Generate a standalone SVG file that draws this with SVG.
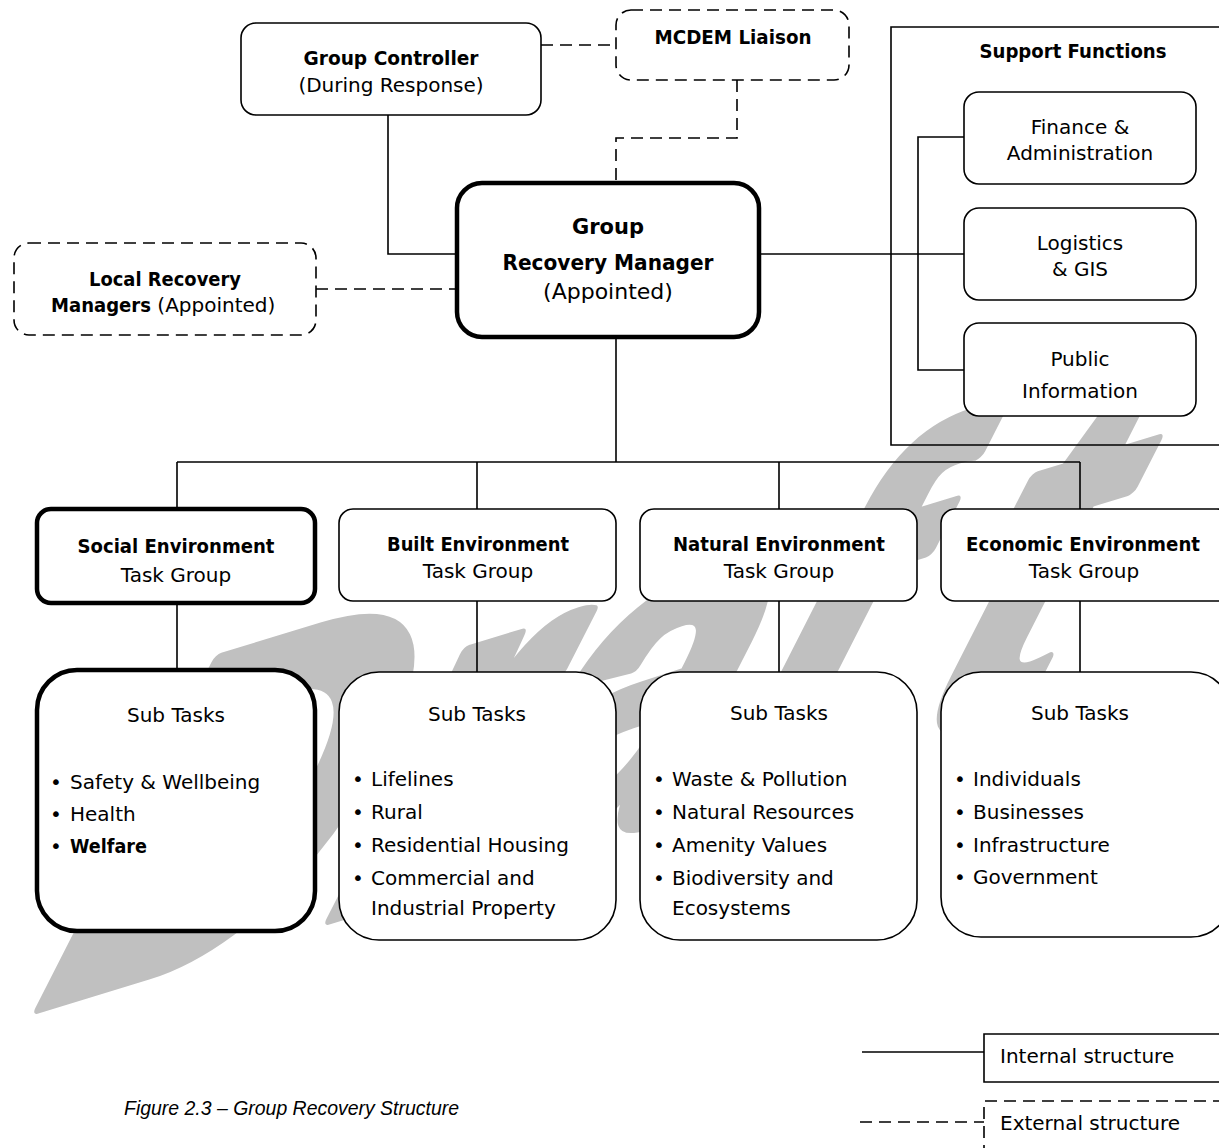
<svg xmlns="http://www.w3.org/2000/svg" width="1219" height="1148" viewBox="0 0 1219 1148">
<style>
.bg{fill:#ffffff}
text.wm{font-family:"Liberation Sans",Arial,sans-serif;font-weight:bold;fill:#c0c0c0;stroke:#c0c0c0;stroke-width:3;stroke-linejoin:round;font-size:100px}
.box{fill:#ffffff;stroke:#000;stroke-width:1.6}
.thick{fill:#ffffff;stroke:#000;stroke-width:4.5}
.dbox{fill:#ffffff;stroke:#000;stroke-width:1.6;stroke-dasharray:12 7}
.frame{fill:none;stroke:#000;stroke-width:1.6}
.ln{fill:none;stroke:#000;stroke-width:1.6}
.dl{fill:none;stroke:#000;stroke-width:1.6;stroke-dasharray:12 7}
text{font-family:"DejaVu Sans","Noto Sans",sans-serif;fill:#000;font-size:20px}
.c{text-anchor:middle}
.b{font-weight:bold}
.big{font-size:22px}
.cap{font-family:"Liberation Sans",Arial,sans-serif;font-style:italic;font-size:20px}
</style>
<rect class="bg" x="0" y="0" width="1219" height="1148"/>
<text class="wm" x="0 72.2 111.1 166.7 219" y="0" transform="matrix(4.015 -1.226 -2.56 5.025 14.5 1014.3)">Draft</text>

<g id="support-functions">
<path class="frame" d="M1225,27 H891 V445 H1225"/>
<text class="c b" x="1073" y="58" textLength="187" lengthAdjust="spacingAndGlyphs">Support Functions</text>
</g>

<g id="connectors">
<path class="ln" d="M388,115 V254 H457"/>
<path class="dl" d="M541,45 H616"/>
<path class="dl" d="M737,80 V138 H616 V183"/>
<path class="dl" d="M316,289 H457"/>
<path class="ln" d="M759,254 H964"/>
<path class="ln" d="M964,137 H918 V370 H964"/>
<path class="ln" d="M616,337 V462"/>
<path class="ln" d="M177,462 H1080"/>
<path class="ln" d="M177,462 V509 M477,462 V509 M779,462 V509 M1080,462 V509"/>
<path class="ln" d="M177,603 V670 M477,601 V672 M779,601 V672 M1080,601 V672"/>
</g>

<g id="group-controller">
<rect class="box" x="241" y="23" width="300" height="92" rx="15"/>
<text class="c b" x="391" y="65" textLength="175" lengthAdjust="spacingAndGlyphs">Group Controller</text>
<text class="c" x="391" y="92">(During Response)</text>
</g>

<g id="mcdem-liaison">
<rect class="dbox" x="616" y="10" width="233" height="70" rx="15"/>
<text class="c b" x="733" y="44" textLength="157" lengthAdjust="spacingAndGlyphs">MCDEM Liaison</text>
</g>

<g id="local-recovery-managers">
<rect class="dbox" x="14" y="243" width="302" height="92" rx="15"/>
<text class="c b" x="165" y="286" textLength="152" lengthAdjust="spacingAndGlyphs">Local Recovery</text>
<text x="51" y="312"><tspan class="b" textLength="100" lengthAdjust="spacingAndGlyphs">Managers</tspan><tspan> (Appointed)</tspan></text>
</g>

<g id="group-recovery-manager">
<rect class="thick" x="457" y="183" width="302" height="154" rx="25"/>
<text class="c b big" x="608" y="234" textLength="72" lengthAdjust="spacingAndGlyphs">Group</text>
<text class="c b big" x="608" y="270" textLength="211" lengthAdjust="spacingAndGlyphs">Recovery Manager</text>
<text class="c big" x="608" y="299">(Appointed)</text>
</g>

<g id="finance-administration">
<rect class="box" x="964" y="92" width="232" height="92" rx="15"/>
<text class="c" x="1080" y="134">Finance &amp;</text>
<text class="c" x="1080" y="160">Administration</text>
</g>

<g id="logistics-gis">
<rect class="box" x="964" y="208" width="232" height="92" rx="15"/>
<text class="c" x="1080" y="250">Logistics</text>
<text class="c" x="1080" y="276">&amp; GIS</text>
</g>

<g id="public-information">
<rect class="box" x="964" y="323" width="232" height="93" rx="15"/>
<text class="c" x="1080" y="366">Public</text>
<text class="c" x="1080" y="398">Information</text>
</g>

<g id="social-environment">
<rect class="thick" x="37" y="509" width="278" height="94" rx="14"/>
<text class="c b" x="176" y="553" textLength="197" lengthAdjust="spacingAndGlyphs">Social Environment</text>
<text class="c" x="176" y="582">Task Group</text>
</g>

<g id="built-environment">
<rect class="box" x="339" y="509" width="277" height="92" rx="14"/>
<text class="c b" x="478" y="551" textLength="182" lengthAdjust="spacingAndGlyphs">Built Environment</text>
<text class="c" x="478" y="578">Task Group</text>
</g>

<g id="natural-environment">
<rect class="box" x="640" y="509" width="277" height="92" rx="14"/>
<text class="c b" x="779" y="551" textLength="212" lengthAdjust="spacingAndGlyphs">Natural Environment</text>
<text class="c" x="779" y="578">Task Group</text>
</g>

<g id="economic-environment">
<rect class="box" x="941" y="509" width="290" height="92" rx="14"/>
<text class="c b" x="1083" y="551" textLength="234" lengthAdjust="spacingAndGlyphs">Economic Environment</text>
<text class="c" x="1084" y="578">Task Group</text>
</g>

<g id="social-subtasks">
<rect class="thick" x="37" y="670" width="278" height="261" rx="40"/>
<text class="c" x="176" y="722">Sub Tasks</text>
<text x="50" y="789">•</text><text x="70" y="789">Safety &amp; Wellbeing</text>
<text x="50" y="821">•</text><text x="70" y="821">Health</text>
<text x="50" y="853">•</text><text class="b" x="70" y="853" textLength="77" lengthAdjust="spacingAndGlyphs">Welfare</text>
</g>

<g id="built-subtasks">
<rect class="box" x="339" y="672" width="277" height="268" rx="40"/>
<text class="c" x="477" y="721">Sub Tasks</text>
<text x="352" y="786">•</text><text x="371" y="786">Lifelines</text>
<text x="352" y="819">•</text><text x="371" y="819">Rural</text>
<text x="352" y="852">•</text><text x="371" y="852">Residential Housing</text>
<text x="352" y="885">•</text><text x="371" y="885">Commercial and</text>
<text x="371" y="915">Industrial Property</text>
</g>

<g id="natural-subtasks">
<rect class="box" x="640" y="672" width="277" height="268" rx="40"/>
<text class="c" x="779" y="720">Sub Tasks</text>
<text x="653" y="786">•</text><text x="672" y="786">Waste &amp; Pollution</text>
<text x="653" y="819">•</text><text x="672" y="819">Natural Resources</text>
<text x="653" y="852">•</text><text x="672" y="852">Amenity Values</text>
<text x="653" y="885">•</text><text x="672" y="885">Biodiversity and</text>
<text x="672" y="915">Ecosystems</text>
</g>

<g id="economic-subtasks">
<rect class="box" x="941" y="672" width="290" height="265" rx="40"/>
<text class="c" x="1080" y="720">Sub Tasks</text>
<text x="954" y="786">•</text><text x="973" y="786">Individuals</text>
<text x="954" y="819">•</text><text x="973" y="819">Businesses</text>
<text x="954" y="852">•</text><text x="973" y="852">Infrastructure</text>
<text x="954" y="884">•</text><text x="973" y="884">Government</text>
</g>

<g id="legend">
<path class="ln" d="M862,1052 H984"/>
<path class="ln" d="M1225,1034 H984 V1082 H1225"/>
<text x="1000" y="1063">Internal structure</text>
<path class="dl" d="M860,1122 H984"/>
<path class="dl" d="M1225,1101 H984 V1150"/>
<text x="1000" y="1130">External structure</text>
</g>

<g id="caption">
<text class="cap" x="124" y="1115" textLength="335" lengthAdjust="spacingAndGlyphs">Figure 2.3 – Group Recovery Structure</text>
</g>
</svg>
